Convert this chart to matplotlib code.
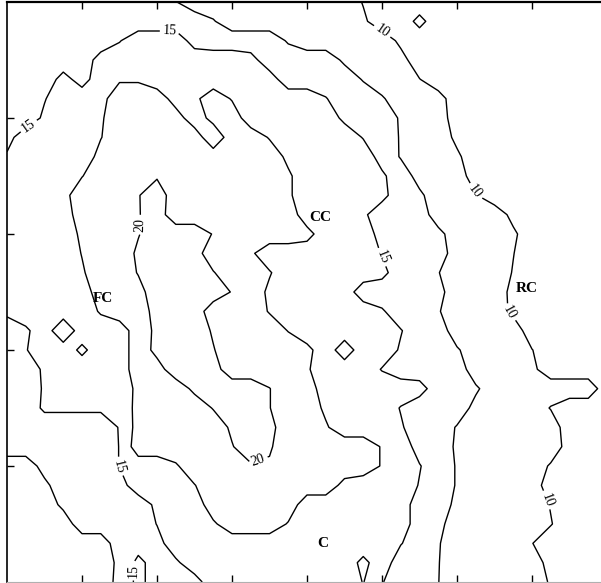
import numpy as np
import matplotlib
matplotlib.use("Agg")
from matplotlib import pyplot as plt

plt.rcParams['font.family'] = ['Liberation Serif', 'DejaVu Serif']

# map values on a coarse grid (rows run top -> bottom)
x_grid = np.linspace(0, 8, 33)
y_grid = np.linspace(5, 0, 31)

r00 = [14,14,14,14,14,14,14,14,14,12.6,11,11,11,11,11,11,11,11,11,9.9,9,9,9,9,9,9,9,9,9,9,9,9,9]
r01 = [14,14,14,14,14,14,14,14,14,14,14,12.7,11,11,11,11,11,11,11,10.3,9,9,10.5,9,9,9,9,9,9,9,9,9,9]
r02 = [14,14,14,14,14,14,14.9,16,16,16,14.3,14,14,14,14,12.2,11,11,11,11,11,9.6,9,9,9,9,9,9,9,9,9,9,9]
r03 = [14,14,14,14,14,15.7,16,16,16,16,16,16,16,15.6,14,14,14,14,12.0,11,11,10.6,9,9,9,9,9,9,9,9,9,9,9]
r04 = [14,14,14,15.6,14.3,16,17.2,17.2,16,16,16,16,16,16,15.8,14,14,14,14,12.3,11,11,10.05,9,9,9,9,9,9,9,9,9,9]
r05 = [14,14,14.9,16,16,16.7,19,19,19,16.4,16.9,19,17.3,16,16,16,16,15.1,14,14,12.8,11,11,10.7,9,9,9,9,9,9,9,9,9]
r06 = [14,14,15.3,16,16,17.2,19,19,19,18.7,16,18.4,19,16,16,16,16,16,14.6,14,14,12.2,11,11,9,9,9,9,9,9,9,9,9]
r07 = [14.4,16,16,16,16,17.4,19,19,19,19,19,15.5,19,19,17.3,16,16,16,16,14.9,14,12.3,11,11,9.6,9,9,9,9,9,9,9,9]
r08 = [15.2,16,16,16,16,18.3,19,19,19,19,19,19,19,19,19,16.9,16,16,16,16,14.3,12.3,11,11,10.3,9,9,9,9,9,9,9,9]
r09 = [16,16,16,16,17.4,19,19,19,19.8,19,19,19,19,19,19,17.9,16,16,16,16,15.3,14,11.5,11,11,9,9,9,9,9,9,9,9]
r10 = [16,16,16,16.7,19,19,19,19.9,21,19,19,19,19,19,19,17.9,16,16,16,16,15.5,14,13.0,11,11,10.1,9,9,9,9,9,9,9]
r11 = [16,16,16,16,19,19,19,19.9,20.8,19,19,19,19,19,19,19,16,16,16,15.3,14,14,14,11,11,11,11,9.5,9,9,9,9,9]
r12 = [16,16,16,16,18.0,19,19,19.9,21,21,21,19.9,19,19,19,19,18.4,16,16,16,14.3,14,14,13.3,11,11,11,10.3,9,9,9,9,9]
r13 = [16,16,16,16,17.6,19,19,20.3,21,21,20.7,19,19,17.9,16,16,16,16,16,16,14.9,14,14,14,11,11,11,10.05,9,9,9,9,9]
r14 = [16,16,16,16,17.2,19,19,20.1,21,21,21,20.1,19,19,17.7,16,16,16,16,16,15.5,14,14,12.6,11,11,11,9.9,9,9,9,9,9]
r15 = [16,16,16,16,16,19,19,19.4,21,21,21,21,19.9,19,17.0,17.0,16,16,16,14,14,14,14,13.3,11,11,11,9.5,9,9,9,9,9]
r16 = [15.4,16,16,16,16,17.8,19,19,20.7,21,21,19,19,19,17.3,16,16,16,16,16,15.2,14,14,12.7,11,11,11,9.6,9,9,9,9,9]
r17 = [14,14.7,16,13.5,16,16,16,19,20.4,21,21,19.8,19,19,19,17.4,16,16,16,16,16,15.1,14,14,11,11,11,11,9,9,9,9,9]
r18 = [14,14.9,16,16,14.6,16,16,19,20.5,21,21,20.1,19,19,19,19,18.2,16,19,16,16,14.8,14,14,12.8,11,11,11,10.05,9,9,9,9]
r19 = [14,14,15.3,16,16,16,16,19,19.3,21,21,20.7,19,19,19,19,17.8,16,16,16,14.9,14,14,14,14,11,11,11,10.4,9,9,9,9]
r20 = [14,14,15.2,16,16,16,16,18.1,19,19,20.4,21,21,21,20.05,19,19,16,16,16,16,16,15.7,14,14,12.9,11,11,11,11,11,11,9]
r21 = [14,14,15.3,15.3,15.3,15.3,16,18.2,19,19,19,20.1,21,21,20.05,19,19,17.0,16,16,16,14.9,14,14,14,11.7,11,11,11,9.9,9,9,9]
r22 = [14,14,14,14,14,14,15.1,18.5,19,19,19,19,20.3,21,20.5,19,19,17.8,16,16,16,15.2,14,14,12.3,11,11,11,11,11,9,9,9]
r23 = [14,14,14,14,14,14,15.05,19,19,19,19,19,19.9,21,20.2,19,19,19,19,19,17.3,16,14.3,14,12.1,11,11,11,11,11,9.3,9,9]
r24 = [11,11,13.5,14,14,14,15.05,16,16,17.2,19,19,19,19.8,19.8,19,19,19,19,19,17.3,16,15.1,14,12.3,11,11,11,11,9.8,9,9,9]
r25 = [11,11,11.9,14,14,14,14.3,16,16,16,17.4,19,19,19,19,19,19,19,16.7,16,16,16,14.9,14,12.3,11,11,11,11,9,9,9,9]
r26 = [11,11,11,13.1,14,14,14,14,15.4,16,16,19,19,19,19,19,16,16,16,16,16,16,14,14,11.8,11,11,11,11,9.9,9,9,9]
r27 = [11,11,11,11,14,14,14,14,15.05,16,16,17.1,19,19,19,17.3,16,16,16,16,16,16,14,13.3,11,11,11,11,11,10.1,9,9,9]
r28 = [11,11,11,11,11,11,14,14,14.4,16,16,16,16,16,16,16,16,16,16,16,16,15.1,14,12.7,11,11,11,11,10.05,9,9,9,9]
r29 = [11,11,11,11,11,11,13.1,15.6,14,14.7,16,16,16,16,16,16,16,16,16,18.2,16,14,14,12.6,11,11,11,11,11,9.3,9,9,9]
r30 = [11,11,11,11,11,11,13.3,15.6,14,14,14.3,16,16,16,16,16,16,16,16,17.6,15.1,14,14,12.55,11,11,11,11,11,9.8,9,9,9]

labelled_levels = [10, 15, 20]
plain_levels = [12.5, 17.5]
# where the level numbers sit on the lines
label_spots = [(0.27, 3.95), (2.17, 4.69), (4.95, 4.70), (6.17, 3.34),
               (6.71, 2.33), (7.21, 0.71), (1.77, 3.08), (3.35, 1.05),
               (5.00, 2.80), (1.48, 0.99), (1.57, 0.10)]

region_names = ['FC', 'CC', 'RC', 'C']
region_x = [1.28, 4.17, 6.93, 4.21]
region_y = [2.44, 3.14, 2.53, 0.33]

x_ticks = [1, 2, 3, 4, 5, 6, 7]
y_ticks = [1, 2, 3, 4]

z = np.array([r00, r01, r02, r03, r04, r05, r06, r07, r08, r09, r10,
              r11, r12, r13, r14, r15, r16, r17, r18, r19, r20,
              r21, r22, r23, r24, r25, r26, r27, r28, r29, r30], dtype=float)

fig = plt.figure(figsize=(6.01, 5.83), dpi=100)
ax = fig.add_axes([7 / 601, 1 / 583, 600 / 601, 580 / 583])

ax.contour(x_grid, y_grid, z, levels=plain_levels, colors='black', linewidths=1.0)
cs = ax.contour(x_grid, y_grid, z, levels=labelled_levels, colors='black', linewidths=1.0)
ax.clabel(cs, manual=label_spots, fmt='%d', inline=True, inline_spacing=3,
          fontsize=10)

for name, x, y in zip(region_names, region_x, region_y):
    ax.text(x, y, name, fontsize=11, fontweight='bold', ha='center', va='center')

ax.set_xlim(0, 8)
ax.set_ylim(0, 5)
ax.set_xticks(x_ticks)
ax.set_yticks(y_ticks)
ax.tick_params(direction='in', length=5, width=1, top=True, bottom=True,
               left=True, right=False, labelbottom=False, labelleft=False)
ax.spines['right'].set_visible(False)
ax.spines['top'].set_linewidth(1.6)
ax.spines['left'].set_linewidth(1.2)
ax.spines['bottom'].set_color('#b0b0b0')

fig.savefig('out.png', dpi=100, facecolor='white')
